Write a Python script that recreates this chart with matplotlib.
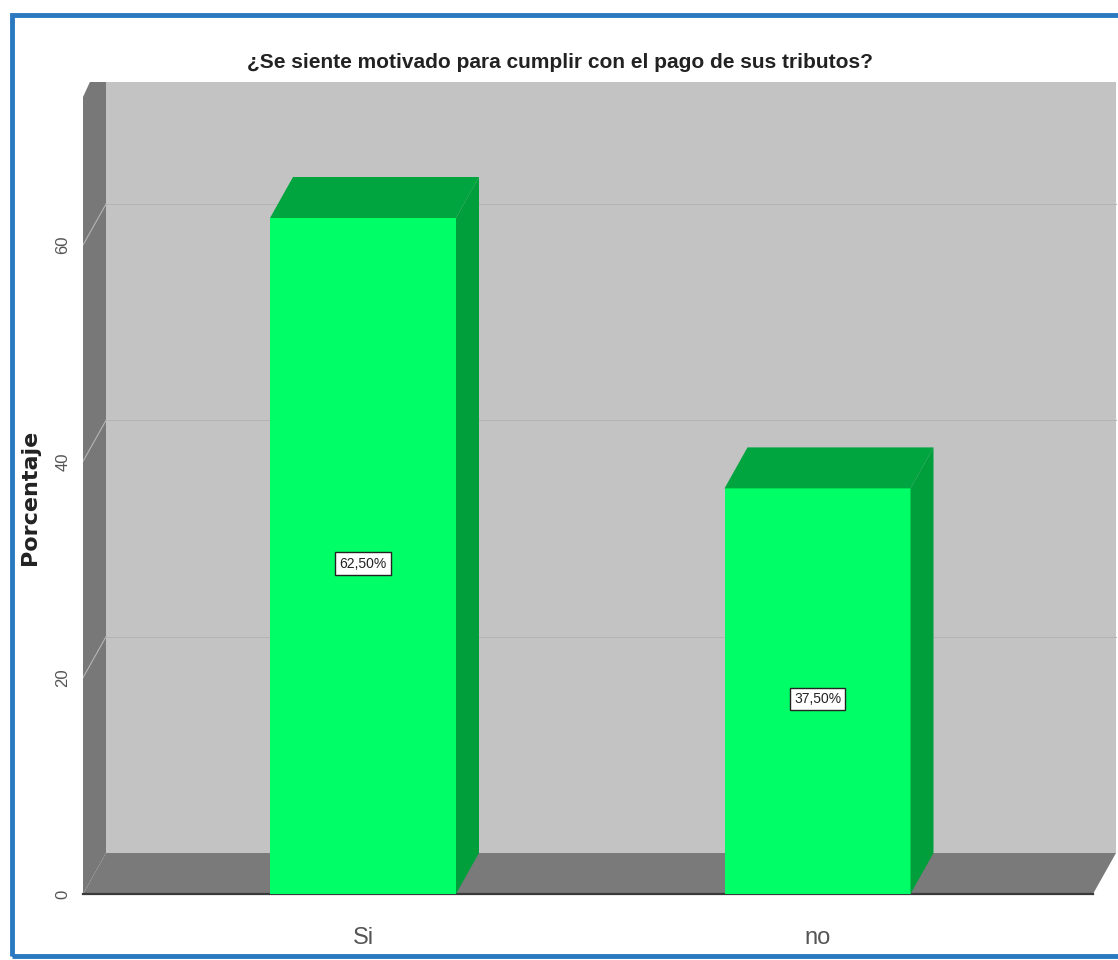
import matplotlib.pyplot as plt
from matplotlib.patches import Polygon, Rectangle

# datos
categorias = ['Si', 'no']
porcentajes = [62.5, 37.5]
yticks = [0, 20, 40, 60]
titulo = '¿Se siente motivado para cumplir con el pago de sus tributos?'

fuente = ['Liberation Sans', 'DejaVu Sans']

W, H = 1118, 960
fig = plt.figure(figsize=(W / 100, H / 100), dpi=100)
fig.patch.set_facecolor('white')

# marco azul
fig.patches.append(Rectangle((12 / W, 4 / H), 1.2, 1 - 19 / H, transform=fig.transFigure,
                             fill=False, edgecolor='#2A78C0', linewidth=3.5))

# ejes: plano frontal, 0 en y=894px
izq, der, abajo, arriba = 83, 1118, 894, 82
ax = fig.add_axes([izq / W, (H - abajo) / H, (der - izq) / W, (abajo - arriba) / H])
px_x = 454.5            # px por categoria
px_y = (abajo - 218) / 62.5
xmin = -(363 - izq) / px_x
xmax = xmin + (der - izq) / px_x
ymax = (abajo - arriba) / px_y
ax.set_xlim(xmin, xmax)
ax.set_ylim(0, ymax)

# profundidad 3D
dx = 23 / px_x
dy = 41 / px_y
x_suelo = xmin + (1093 - izq) / px_x

# pared del fondo
ax.add_patch(Rectangle((xmin + dx, dy), x_suelo - xmin, ymax - dy,
                       facecolor='#C3C3C3', edgecolor='none', zorder=0))
# pared izquierda
chaf = (abajo - 97) / px_y
ax.add_patch(Polygon([(xmin, 0), (xmin + dx, dy), (xmin + dx, ymax),
                      (xmin + dx * 0.3, ymax), (xmin, chaf)],
                     facecolor='#787878', edgecolor='none', zorder=1))
# suelo
ax.add_patch(Polygon([(xmin, 0), (x_suelo, 0), (x_suelo + dx, dy), (xmin + dx, dy)],
                     facecolor='#7A7A7A', edgecolor='none', zorder=1))
ax.plot([xmin, x_suelo], [0, 0], color='#3A3A3A', lw=1.6, zorder=2, clip_on=False)

# lineas de rejilla
for t in yticks[1:]:
    ax.plot([xmin + dx, x_suelo + dx], [t + dy, t + dy], color='#B3B3B3', lw=0.7, zorder=0.5)
    ax.plot([xmin, xmin + dx], [t, t + dy], color='#B5B5B5', lw=0.8, zorder=1.5)

# barras
xs = list(range(len(categorias)))
ancho = 186 / px_x
ax.bar(xs, porcentajes, width=ancho, color='#00FF66', zorder=3)
for x, v in zip(xs, porcentajes):
    l, r = x - ancho / 2, x + ancho / 2
    ax.add_patch(Polygon([(l, v), (l + dx, v + dy), (r + dx, v + dy), (r, v)],
                         facecolor='#00A53F', edgecolor='none', zorder=3))
    ax.add_patch(Polygon([(r, 0), (r + dx, dy), (r + dx, v + dy), (r, v)],
                         facecolor='#009F3C', edgecolor='none', zorder=3))
    ax.text(x, v / 2 - 0.7, f'{v:.2f}%'.replace('.', ','), ha='center', va='center',
            fontsize=10, family=fuente, color='#222222',
            bbox=dict(boxstyle='square,pad=0.3', facecolor='white', edgecolor='#222222', lw=1),
            zorder=4)

ax.set_yticks(yticks)
ax.set_yticklabels([str(t) for t in yticks], rotation=90, va='center', fontsize=12,
                   color='#555555', family=fuente)
ax.set_xticks(xs)
ax.set_xticklabels(categorias, fontsize=17, color='#555555', family=fuente)
ax.tick_params(axis='y', length=0, pad=9)
ax.tick_params(axis='x', length=0, pad=24)
for s in ax.spines.values():
    s.set_visible(False)
ax.set_facecolor('none')

fig.text(30 / W, 1 - 497 / H, 'Porcentaje', rotation=90, ha='center', va='center',
         fontsize=16, fontweight='bold', color='#222222')
fig.text(560 / W, 1 - 62 / H, titulo, ha='center', va='center', fontsize=15,
         fontweight='bold', color='#222222', family=fuente)

fig.savefig('out.png', dpi=100)
